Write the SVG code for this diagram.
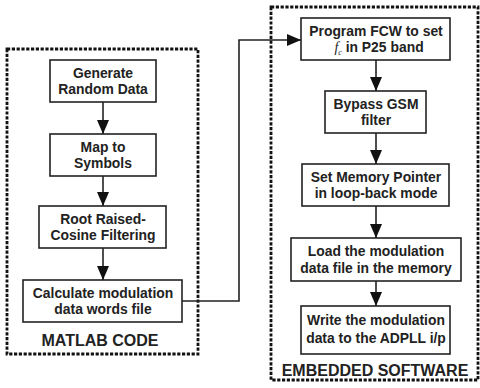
<svg xmlns="http://www.w3.org/2000/svg" width="480" height="388" viewBox="0 0 480 388">
<defs>
<marker id="ah" markerWidth="14" markerHeight="12" refX="14" refY="6" orient="auto" markerUnits="userSpaceOnUse">
<path d="M0,0 L14,6 L0,12 Z" fill="#111"/>
</marker>
<style>
.box{fill:#fff;stroke:#222;stroke-width:1.6}
.grp{fill:none;stroke:#111;stroke-width:2.8;stroke-dasharray:3.2 1.6}
.t{font-family:"Liberation Sans",Arial,sans-serif;font-weight:bold;font-size:13.9px;fill:#222;text-anchor:middle}
.lbl{font-family:"Liberation Sans",Arial,sans-serif;font-weight:bold;font-size:16px;fill:#222;text-anchor:middle}
.c{fill:none;stroke:#222;stroke-width:1.6}
</style>
</defs>
<rect class="grp" x="7" y="49" width="191" height="305"/>
<rect class="grp" x="271" y="7" width="207" height="373"/>
<text class="lbl" x="100" y="346">MATLAB CODE</text>
<text class="lbl" x="375" y="376">EMBEDDED SOFTWARE</text>
<g id="connectors">
<line class="c" x1="103" y1="102" x2="103" y2="134" marker-end="url(#ah)"/>
<line class="c" x1="103" y1="176" x2="103" y2="206" marker-end="url(#ah)"/>
<line class="c" x1="103" y1="248" x2="103" y2="280" marker-end="url(#ah)"/>
<polyline class="c" points="182,301 239,301 239,40 301,40" marker-end="url(#ah)"/>
<line class="c" x1="376" y1="60" x2="376" y2="91" marker-end="url(#ah)"/>
<line class="c" x1="376" y1="133" x2="376" y2="164" marker-end="url(#ah)"/>
<line class="c" x1="376" y1="206" x2="376" y2="238" marker-end="url(#ah)"/>
<line class="c" x1="376" y1="281" x2="376" y2="306" marker-end="url(#ah)"/>
</g>
<g id="n1"><rect class="box" x="50" y="60" width="106" height="42"/><text class="t" x="103" y="78">Generate</text><text class="t" x="103" y="94">Random Data</text></g>
<g id="n2"><rect class="box" x="50" y="134" width="106" height="42"/><text class="t" x="103" y="152">Map to</text><text class="t" x="103" y="168">Symbols</text></g>
<g id="n3"><rect class="box" x="39" y="206" width="127" height="42"/><text class="t" x="103" y="224">Root Raised-</text><text class="t" x="103" y="240">Cosine Filtering</text></g>
<g id="n4"><rect class="box" x="23" y="280" width="159" height="42"/><text class="t" x="103" y="298">Calculate modulation</text><text class="t" x="103" y="314">data words file</text></g>
<g id="n5"><rect class="box" x="301" y="18" width="149" height="42"/><text class="t" x="376" y="36">Program FCW to set</text><text class="t" x="379" y="52"><tspan font-family="'Liberation Serif',serif" font-style="italic" font-weight="normal">f</tspan><tspan font-family="'Liberation Serif',serif" font-style="italic" font-weight="normal" font-size="8" dy="3">c</tspan><tspan dy="-3"> in P25 band</tspan></text></g>
<g id="n6"><rect class="box" x="325" y="91" width="101" height="42"/><text class="t" x="376" y="109">Bypass GSM</text><text class="t" x="376" y="125">filter</text></g>
<g id="n7"><rect class="box" x="302" y="164" width="147" height="42"/><text class="t" x="376" y="182">Set Memory Pointer</text><text class="t" x="376" y="198">in loop-back mode</text></g>
<g id="n8"><rect class="box" x="291" y="238" width="170" height="43"/><text class="t" x="376" y="256">Load the modulation</text><text class="t" x="376" y="273">data file in the memory</text></g>
<g id="n9"><rect class="box" x="301" y="306" width="149" height="48"/><text class="t" x="376" y="325">Write the modulation</text><text class="t" x="376" y="343">data to the ADPLL i/p</text></g>
</svg>
